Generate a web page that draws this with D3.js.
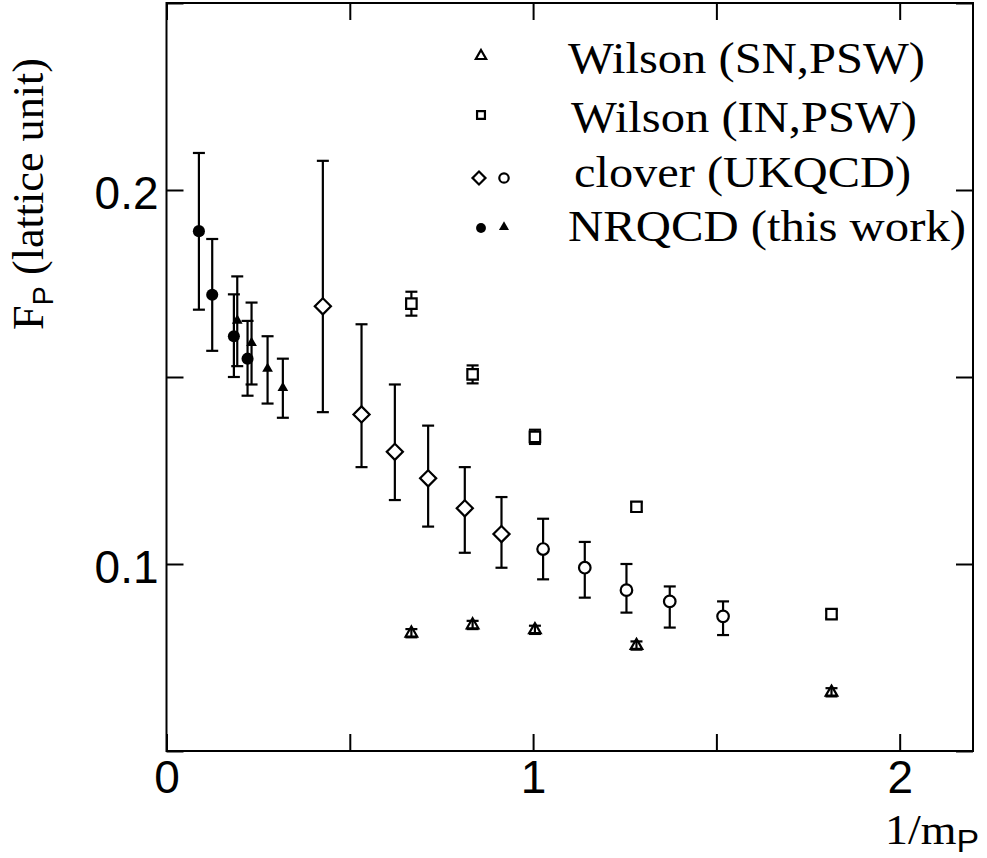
<!DOCTYPE html>
<html>
<head>
<meta charset="utf-8">
<script src="https://cdn.jsdelivr.net/npm/d3@7"></script>
<style>
    body { margin: 0; background: #fff; }
    svg { display: block; }
</style>
</head>
<body>
<svg id="plot" width="987" height="858"></svg>
<script>
/* data: x = 1/mP, y = FP (lattice unit) */

// Wilson (SN,PSW), open triangles
var snX = [0.668, 0.835, 1.005, 1.282, 1.814];
var snY = [0.0815, 0.0837, 0.0824, 0.0782, 0.0657];
var snErr = [0.0011, 0.0011, 0.0011, 0.0011, 0.0011];

// Wilson (IN,PSW), open squares
var inX = [0.668, 0.835, 1.005, 1.282, 1.814];
var inY = [0.1696, 0.1507, 0.1340, 0.1153, 0.0866];
var inErr = [0.0032, 0.0024, 0.0019, 0.0012, 0.0010];

// clover (UKQCD), open diamonds (asymmetric errors)
var dmX = [0.4265, 0.532, 0.6229, 0.7137, 0.8137, 0.9138];
var dmY = [0.1689, 0.1400, 0.1300, 0.1229, 0.1149, 0.1080];
var dmUp = [0.0389, 0.0241, 0.0180, 0.0141, 0.0110, 0.0099];
var dmDn = [0.0283, 0.0141, 0.0129, 0.0129, 0.0119, 0.0090];

// clover (UKQCD), open circles
var ocX = [1.0273, 1.141, 1.2547, 1.3728, 1.5182];
var ocY = [0.1040, 0.0990, 0.0930, 0.0900, 0.0860];
var ocUp = [0.0081, 0.0069, 0.0070, 0.0040, 0.0040];
var ocDn = [0.0081, 0.0080, 0.0060, 0.0070, 0.0050];

// NRQCD (this work), filled circles
var fcX = [0.0884, 0.1247, 0.1838, 0.2211];
var fcY = [0.1890, 0.1720, 0.1609, 0.1549];
var fcUp = [0.0209, 0.0149, 0.0112, 0.0101];
var fcDn = [0.0210, 0.0150, 0.0109, 0.0099];

// NRQCD (this work), filled triangles
var ftX = [0.193, 0.232, 0.2757, 0.3174];
var ftY = [0.1651, 0.1591, 0.1522, 0.1471];
var ftUp = [0.0118, 0.0108, 0.0087, 0.0078];
var ftDn = [0.0122, 0.0111, 0.0093, 0.0080];

// axes
var xTicks = [0, 0.5, 1, 1.5, 2];
var xLabels = [0, 1, 2];
var yTicks = [0.05, 0.1, 0.15, 0.2, 0.25];
var yLabels = [0.1, 0.2];

var legendLabels = ["Wilson (SN,PSW)", "Wilson (IN,PSW)", "clover (UKQCD)", "NRQCD (this work)"];

/* layout (note: "top" is reserved on window, so use pad*) */
var padL = 166.5, padR = 973, padT = 3, padB = 751;
var tickLen = 17, capW = 6, lw = 2.2;
var serif = "'Liberation Serif', 'Times New Roman', serif";
var sans = "'Liberation Sans', Arial, Helvetica, sans-serif";

var svg = d3.select("#plot");

var xScale = d3.scaleLinear().domain([0, 2.2]).range([padL, padR]);
var yScale = d3.scaleLinear().domain([0.05, 0.25]).range([padB, padT]);

// pack arrays into point objects
var pack = function (xs, ys, up, dn) {
    return xs.map((x, i) => ({ x: x, y: ys[i], hi: ys[i] + up[i], lo: ys[i] - (dn || up)[i] }));
};

var symPath = function (type, size) {
    return d3.symbol().type(type).size(size)();
};

// error bars with caps
var drawBars = function (g, pts) {
    var b = g.selectAll(".bar").data(pts).join("g").attr("class", "bar")
        .attr("stroke", "#000").attr("stroke-width", lw).attr("fill", "none");
    b.append("line")
        .attr("x1", d => xScale(d.x)).attr("x2", d => xScale(d.x))
        .attr("y1", d => yScale(d.hi)).attr("y2", d => yScale(d.lo));
    b.append("line")
        .attr("x1", d => xScale(d.x) - capW).attr("x2", d => xScale(d.x) + capW)
        .attr("y1", d => yScale(d.hi)).attr("y2", d => yScale(d.hi));
    b.append("line")
        .attr("x1", d => xScale(d.x) - capW).attr("x2", d => xScale(d.x) + capW)
        .attr("y1", d => yScale(d.lo)).attr("y2", d => yScale(d.lo));
};

// markers
var drawMarks = function (g, pts, type, size, fill, rot) {
    g.selectAll(".mark").data(pts).join("path").attr("class", "mark")
        .attr("d", symPath(type, size))
        .attr("transform", d => "translate(" + xScale(d.x) + "," + yScale(d.y) + ")" + (rot ? " rotate(" + rot + ")" : ""))
        .attr("fill", fill)
        .attr("stroke", fill == "#000" ? "none" : "#000")
        .attr("stroke-width", lw);
};

var series = [
    // points, symbol, size, fill, rotation, bars on top
    [pack(snX, snY, snErr), d3.symbolTriangle, 58, "none", 0, true],
    [pack(inX, inY, inErr), d3.symbolSquare, 110, "#fff", 0, false],
    [pack(dmX, dmY, dmUp, dmDn), d3.symbolSquare, 130, "#fff", 45, false],
    [pack(ocX, ocY, ocUp, ocDn), d3.symbolCircle, 105, "#fff", 0, false],
    [pack(fcX, fcY, fcUp, fcDn), d3.symbolCircle, 115, "#000", 0, false],
    [pack(ftX, ftY, ftUp, ftDn), d3.symbolTriangle, 50, "#000", 0, false]
];

series.forEach(function (s) {
    var g = svg.append("g");
    if (s[5]) {
        drawMarks(g.append("g"), s[0], s[1], s[2], s[3], s[4]);
        drawBars(g.append("g"), s[0]);
    } else {
        drawBars(g.append("g"), s[0]);
        drawMarks(g.append("g"), s[0], s[1], s[2], s[3], s[4]);
    }
});

/* frame and inward ticks on all four sides */
var fmtX = d => xLabels.indexOf(d) >= 0 ? d3.format("d")(d) : "";
var fmtY = d => yLabels.some(v => Math.abs(v - d) < 1e-9) ? d3.format(".1f")(d) : "";

var axes = [
    [d3.axisBottom(xScale).tickValues(xTicks).tickFormat(fmtX).tickPadding(9), "translate(0," + padB + ")", "0.71em"],
    [d3.axisTop(xScale).tickValues(xTicks).tickFormat(""), "translate(0," + padT + ")", null],
    [d3.axisLeft(yScale).tickValues(yTicks).tickFormat(fmtY).tickPadding(8), "translate(" + padL + ",0)", "0.4em"],
    [d3.axisRight(yScale).tickValues(yTicks).tickFormat(""), "translate(" + padR + ",0)", null]
];
axes.forEach(function (a) {
    var g = svg.append("g").attr("transform", a[1])
        .call(a[0].tickSizeInner(-tickLen).tickSizeOuter(0));
    g.select(".domain").remove();
    g.selectAll(".tick line").attr("stroke", "#000").attr("stroke-width", 2);
    g.selectAll(".tick text").attr("fill", "#000")
        .attr("font-family", sans).attr("font-size", 46);
    if (a[2]) g.selectAll(".tick text").attr("dy", a[2]);
});

svg.append("rect")
    .attr("x", padL).attr("y", padT)
    .attr("width", padR - padL).attr("height", padB - padT)
    .attr("fill", "none").attr("stroke", "#000").attr("stroke-width", 2);

/* axis titles */
var yt = svg.append("text")
    .attr("transform", "translate(43,330) rotate(-90)")
    .attr("font-family", serif).attr("font-size", 44).attr("fill", "#000")
    .attr("textLength", 272).attr("lengthAdjust", "spacingAndGlyphs");
yt.append("tspan").text("F");
yt.append("tspan").attr("font-family", sans).attr("font-size", 29).attr("dy", 10).text("P");
yt.append("tspan").attr("dy", -10).text(" (lattice unit)");

var xt = svg.append("text")
    .attr("x", 885).attr("y", 844)
    .attr("font-family", serif).attr("font-size", 42).attr("fill", "#000")
    .attr("textLength", 94).attr("lengthAdjust", "spacingAndGlyphs");
xt.append("tspan").text("1/m");
xt.append("tspan").attr("font-family", sans).attr("font-size", 31).attr("dy", 8).text("P");

/* legend */
var legX = [[568, 925], [571, 917], [574, 911], [568, 966]];
var legBase = [73, 132, 187, 241];
svg.selectAll(".legtext").data(legendLabels).join("text").attr("class", "legtext")
    .attr("x", (d, i) => legX[i][0]).attr("y", (d, i) => legBase[i])
    .attr("font-family", serif).attr("font-size", 44).attr("fill", "#000")
    .attr("textLength", (d, i) => legX[i][1] - legX[i][0]).attr("lengthAdjust", "spacingAndGlyphs")
    .text(d => d);

var legMarks = [
    [481, 56, d3.symbolTriangle, 46, "none", 0],
    [481, 115, d3.symbolSquare, 62, "#fff", 0],
    [479, 178, d3.symbolSquare, 84, "#fff", 45],
    [504, 178, d3.symbolCircle, 70, "#fff", 0],
    [481, 228, d3.symbolCircle, 76, "#000", 0],
    [504, 227, d3.symbolTriangle, 44, "#000", 0]
];
svg.selectAll(".legmark").data(legMarks).join("path").attr("class", "legmark")
    .attr("d", d => symPath(d[2], d[3]))
    .attr("transform", d => "translate(" + d[0] + "," + d[1] + ")" + (d[5] ? " rotate(" + d[5] + ")" : ""))
    .attr("fill", d => d[4])
    .attr("stroke", d => d[4] == "#000" ? "none" : "#000")
    .attr("stroke-width", lw);
</script>
</body>
</html>
